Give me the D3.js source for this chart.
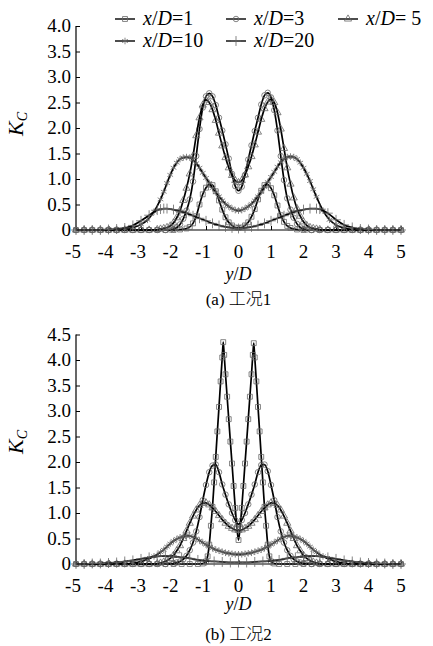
<!DOCTYPE html>
<html>
<head>
<meta charset="utf-8">
<script src="https://cdn.jsdelivr.net/npm/d3@7"></script>
<style>
  body { margin: 0; background: #fff; }
</style>
</head>
<body>
<div class="chart"></div>
<script>
// axis ticks
var xTicks = [-5, -4, -3, -2, -1, 0, 1, 2, 3, 4, 5];
var yTicksA = [0, 0.5, 1.0, 1.5, 2.0, 2.5, 3.0, 3.5, 4.0];
var yTicksB = [0, 0.5, 1.0, 1.5, 2.0, 2.5, 3.0, 3.5, 4.0, 4.5];

// legend
var seriesLabels = ["=1", "=3", "= 5", "=10", "=20"];
var seriesSymbols = ["square", "circle", "triangle", "asterisk", "plus"];

// (a) case 1 : [y/D, Kc]
var a_xd1 = [[-5,0],[-4.75,0],[-4.5,0],[-4.25,0],[-4,0],[-3.75,0],[-3.5,0],[-3.25,0],[-3,0],[-2.75,0],[-2.5,0],[-2.25,0],[-2,0],
  [-1.8,0.01],[-1.6,0.03],[-1.5,0.06],[-1.4,0.13],[-1.3,0.27],[-1.2,0.5],[-1.1,0.7],[-1,0.83],[-0.9,0.89],[-0.8,0.88],[-0.7,0.76],
  [-0.6,0.58],[-0.5,0.4],[-0.4,0.25],[-0.3,0.15],[-0.2,0.09],[-0.1,0.05],[0,0.04],[0.1,0.05],[0.2,0.09],[0.3,0.15],[0.4,0.26],
  [0.5,0.41],[0.6,0.6],[0.7,0.77],[0.8,0.88],[0.9,0.89],[1,0.82],[1.1,0.68],[1.2,0.48],[1.3,0.29],[1.4,0.16],[1.5,0.08],[1.6,0.04],
  [1.8,0.01],[2,0],[2.25,0],[2.5,0],[2.75,0],[3,0],[3.25,0],[3.5,0],[3.75,0],[4,0],[4.25,0],[4.5,0],[4.75,0],[5,0]];
var a_xd3 = [[-5,0],[-4.75,0],[-4.5,0],[-4.25,0],[-4,0],[-3.75,0],[-3.5,0],[-3.25,0],[-3,0],[-2.75,0],[-2.5,0],[-2.25,0],
  [-2.1,0.01],[-2,0.02],[-1.9,0.05],[-1.8,0.11],[-1.7,0.22],[-1.6,0.38],[-1.5,0.6],[-1.4,0.95],[-1.3,1.45],[-1.2,1.98],[-1.1,2.4],
  [-1,2.62],[-0.9,2.68],[-0.8,2.62],[-0.7,2.45],[-0.6,2.2],[-0.5,1.95],[-0.4,1.68],[-0.3,1.4],[-0.2,1.1],[-0.1,0.86],[0,0.77],
  [0.1,0.85],[0.2,1.08],[0.3,1.38],[0.4,1.66],[0.5,1.94],[0.6,2.2],[0.7,2.46],[0.8,2.64],[0.9,2.69],[1,2.6],[1.1,2.35],[1.2,1.95],
  [1.3,1.45],[1.4,0.98],[1.5,0.62],[1.6,0.4],[1.7,0.24],[1.8,0.12],[1.9,0.05],[2,0.02],[2.1,0.01],
  [2.25,0],[2.5,0],[2.75,0],[3,0],[3.25,0],[3.5,0],[3.75,0],[4,0],[4.25,0],[4.5,0],[4.75,0],[5,0]];
var a_xd5 = [[-5,0],[-4.75,0],[-4.5,0],[-4.25,0],[-4,0],[-3.75,0],[-3.5,0],[-3.25,0],[-3,0],[-2.75,0],
  [-2.5,0.01],[-2.4,0.02],[-2.3,0.03],[-2.2,0.05],[-2.1,0.08],[-2,0.14],[-1.9,0.24],[-1.8,0.38],[-1.7,0.58],[-1.6,0.82],[-1.5,1.1],
  [-1.4,1.45],[-1.3,1.85],[-1.2,2.2],[-1.1,2.45],[-1,2.55],[-0.9,2.5],[-0.8,2.36],[-0.7,2.15],[-0.6,1.9],[-0.5,1.65],[-0.4,1.42],
  [-0.3,1.22],[-0.2,1.07],[-0.1,0.97],[0,0.93],[0.1,0.97],[0.2,1.08],[0.3,1.24],[0.4,1.44],[0.5,1.67],[0.6,1.92],[0.7,2.17],
  [0.8,2.38],[0.9,2.51],[1,2.56],[1.1,2.5],[1.2,2.3],[1.3,1.98],[1.4,1.6],[1.5,1.22],[1.6,0.9],[1.7,0.63],[1.8,0.42],[1.9,0.27],
  [2,0.16],[2.1,0.09],[2.2,0.05],[2.3,0.03],[2.4,0.02],[2.5,0.01],[2.75,0],[3,0],[3.25,0],[3.5,0],[3.75,0],[4,0],[4.25,0],[4.5,0],[4.75,0],[5,0]];
var a_xd10 = [[-5,0],[-4.75,0],[-4.5,0],[-4.25,0],[-4,0],[-3.75,0],[-3.5,0.02],[-3.25,0.05],[-3,0.11],[-2.8,0.2],[-2.6,0.36],
  [-2.4,0.6],[-2.3,0.75],[-2.2,0.92],[-2.1,1.08],[-2,1.22],[-1.9,1.32],[-1.8,1.39],[-1.7,1.42],[-1.6,1.43],[-1.5,1.42],[-1.4,1.38],
  [-1.3,1.31],[-1.2,1.22],[-1.1,1.12],[-1,1.02],[-0.9,0.92],[-0.8,0.82],[-0.7,0.74],[-0.6,0.66],[-0.5,0.58],[-0.4,0.51],[-0.3,0.46],
  [-0.2,0.42],[-0.1,0.39],[0,0.38],[0.1,0.39],[0.2,0.42],[0.3,0.46],[0.4,0.51],[0.5,0.58],[0.6,0.66],[0.7,0.75],[0.8,0.84],
  [0.9,0.94],[1,1.04],[1.1,1.14],[1.2,1.24],[1.3,1.33],[1.4,1.39],[1.5,1.43],[1.6,1.44],[1.7,1.43],[1.8,1.39],[1.9,1.32],[2,1.22],
  [2.1,1.1],[2.2,0.96],[2.3,0.8],[2.4,0.65],[2.6,0.38],[2.8,0.2],[3,0.1],[3.25,0.04],[3.5,0.01],[3.75,0],[4,0],[4.25,0],[4.5,0],[4.75,0],[5,0]];
var a_xd20 = [[-5,0],[-4.75,0],[-4.5,0],[-4.25,0],[-4,0.01],[-3.75,0.02],[-3.5,0.04],[-3.25,0.09],[-3,0.18],[-2.75,0.29],
  [-2.5,0.39],[-2.4,0.41],[-2.3,0.42],[-2.2,0.42],[-2,0.4],[-1.8,0.37],[-1.6,0.33],[-1.4,0.28],[-1.2,0.23],[-1,0.18],[-0.8,0.13],
  [-0.6,0.09],[-0.4,0.06],[-0.2,0.04],[0,0.03],[0.2,0.04],[0.4,0.06],[0.6,0.09],[0.8,0.13],[1,0.18],[1.2,0.23],[1.4,0.28],
  [1.6,0.33],[1.8,0.37],[2,0.4],[2.2,0.42],[2.4,0.42],[2.5,0.41],[2.75,0.33],[3,0.2],[3.25,0.1],[3.5,0.05],[3.75,0.02],[4,0.01],
  [4.25,0],[4.5,0],[4.75,0],[5,0]];

// (b) case 2 : [y/D, Kc]
var b_xd1 = [[-5,0],[-4.75,0],[-4.5,0],[-4.25,0],[-4,0],[-3.75,0],[-3.5,0],[-3.25,0],[-3,0],[-2.75,0],[-2.5,0],[-2.25,0],[-2,0],
  [-1.75,0],[-1.5,0],[-1.25,0],[-1.1,0.01],[-1,0.05],[-0.95,0.15],[-0.9,0.38],[-0.85,0.75],[-0.8,1.12],[-0.75,1.6],[-0.7,2.1],
  [-0.65,2.6],[-0.6,3.08],[-0.55,3.58],[-0.5,4.05],[-0.47,4.35],[-0.44,4.1],[-0.4,3.72],[-0.35,3.28],[-0.3,2.84],[-0.25,2.4],
  [-0.2,1.97],[-0.15,1.53],[-0.1,1.1],[-0.05,0.72],[0,0.47],[0.05,0.72],[0.1,1.1],[0.15,1.53],[0.2,1.97],[0.25,2.4],[0.3,2.84],
  [0.35,3.28],[0.4,3.72],[0.44,4.1],[0.47,4.33],[0.5,4.05],[0.55,3.58],[0.6,3.08],[0.65,2.6],[0.7,2.1],[0.75,1.6],[0.8,1.12],
  [0.85,0.75],[0.9,0.38],[0.95,0.15],[1,0.05],[1.1,0.01],[1.25,0],[1.5,0],[1.75,0],[2,0],[2.25,0],[2.5,0],[2.75,0],[3,0],
  [3.25,0],[3.5,0],[3.75,0],[4,0],[4.25,0],[4.5,0],[4.75,0],[5,0]];
var b_xd3 = [[-5,0],[-4.75,0],[-4.5,0],[-4.25,0],[-4,0],[-3.75,0],[-3.5,0],[-3.25,0],[-3,0],[-2.75,0],[-2.5,0],[-2.25,0],
  [-2,0.01],[-1.9,0.03],[-1.8,0.05],[-1.7,0.09],[-1.6,0.16],[-1.5,0.27],[-1.4,0.42],[-1.3,0.64],[-1.2,0.92],[-1.1,1.25],[-1,1.55],
  [-0.9,1.8],[-0.8,1.93],[-0.7,1.95],[-0.6,1.8],[-0.5,1.56],[-0.4,1.36],[-0.3,1.17],[-0.2,1],[-0.1,0.86],[0,0.78],[0.1,0.86],
  [0.2,1],[0.3,1.17],[0.4,1.36],[0.5,1.56],[0.6,1.8],[0.7,1.94],[0.8,1.95],[0.9,1.82],[1,1.55],[1.1,1.25],[1.2,0.92],[1.3,0.64],
  [1.4,0.42],[1.5,0.27],[1.6,0.16],[1.7,0.09],[1.8,0.05],[1.9,0.03],[2,0.01],[2.25,0],[2.5,0],[2.75,0],[3,0],[3.25,0],[3.5,0],
  [3.75,0],[4,0],[4.25,0],[4.5,0],[4.75,0],[5,0]];
var b_xd5 = [[-5,0],[-4.75,0],[-4.5,0],[-4.25,0],[-4,0],[-3.75,0],[-3.5,0],[-3.25,0],[-3,0],[-2.75,0],
  [-2.5,0.01],[-2.4,0.02],[-2.3,0.04],[-2.2,0.07],[-2.1,0.11],[-2,0.17],[-1.9,0.26],[-1.8,0.36],[-1.7,0.5],[-1.6,0.65],[-1.5,0.8],
  [-1.4,0.94],[-1.3,1.06],[-1.2,1.15],[-1.1,1.19],[-1,1.2],[-0.9,1.16],[-0.8,1.1],[-0.7,1.03],[-0.6,0.95],[-0.5,0.87],[-0.4,0.8],
  [-0.3,0.74],[-0.2,0.7],[-0.1,0.67],[0,0.66],[0.1,0.67],[0.2,0.7],[0.3,0.74],[0.4,0.8],[0.5,0.87],[0.6,0.95],[0.7,1.03],
  [0.8,1.1],[0.9,1.16],[1,1.2],[1.1,1.19],[1.2,1.15],[1.3,1.06],[1.4,0.94],[1.5,0.8],[1.6,0.65],[1.7,0.5],[1.8,0.36],[1.9,0.26],
  [2,0.17],[2.1,0.11],[2.2,0.07],[2.3,0.04],[2.4,0.02],[2.5,0.01],[2.75,0],[3,0],[3.25,0],[3.5,0],[3.75,0],[4,0],[4.25,0],[4.5,0],[4.75,0],[5,0]];
var b_xd10 = [[-5,0],[-4.75,0],[-4.5,0],[-4.25,0],[-4,0],[-3.75,0],[-3.5,0],[-3.25,0.02],[-3,0.05],[-2.8,0.09],[-2.6,0.15],
  [-2.4,0.23],[-2.3,0.28],[-2.2,0.34],[-2.1,0.4],[-2,0.45],[-1.9,0.49],[-1.8,0.52],[-1.7,0.54],[-1.6,0.55],[-1.5,0.55],[-1.4,0.53],
  [-1.3,0.5],[-1.2,0.46],[-1.1,0.42],[-1,0.38],[-0.9,0.34],[-0.8,0.31],[-0.7,0.28],[-0.6,0.26],[-0.5,0.24],[-0.4,0.22],[-0.3,0.21],
  [-0.2,0.2],[-0.1,0.19],[0,0.19],[0.1,0.19],[0.2,0.2],[0.3,0.21],[0.4,0.22],[0.5,0.24],[0.6,0.26],[0.7,0.28],[0.8,0.31],
  [0.9,0.34],[1,0.38],[1.1,0.42],[1.2,0.46],[1.3,0.5],[1.4,0.53],[1.5,0.55],[1.6,0.55],[1.7,0.54],[1.8,0.52],[1.9,0.49],[2,0.45],
  [2.1,0.4],[2.2,0.34],[2.3,0.28],[2.4,0.23],[2.6,0.15],[2.8,0.09],[3,0.05],[3.25,0.02],[3.5,0],[3.75,0],[4,0],[4.25,0],[4.5,0],[4.75,0],[5,0]];
var b_xd20 = [[-5,0],[-4.75,0],[-4.5,0.01],[-4.25,0.01],[-4,0.02],[-3.75,0.03],[-3.5,0.05],[-3.25,0.07],[-3,0.1],[-2.75,0.13],
  [-2.5,0.15],[-2.25,0.16],[-2,0.15],[-1.75,0.13],[-1.5,0.11],[-1.25,0.08],[-1,0.06],[-0.75,0.05],[-0.5,0.04],[-0.25,0.03],[0,0.03],
  [0.25,0.03],[0.5,0.04],[0.75,0.05],[1,0.06],[1.25,0.08],[1.5,0.11],[1.75,0.13],[2,0.15],[2.25,0.16],[2.5,0.15],[2.75,0.13],
  [3,0.1],[3.25,0.07],[3.5,0.05],[3.75,0.03],[4,0.02],[4.25,0.01],[4.5,0.01],[4.75,0],[5,0]];

var serif = "'Liberation Serif', 'Times New Roman', serif";

var width = 433, height = 646;
var svg = d3.select(".chart").append("svg")
  .attr("width", width)
  .attr("height", height)
  .attr("font-family", serif);

var symbolTypes = {
  square: d3.symbolSquare,
  circle: d3.symbolCircle,
  triangle: d3.symbolTriangle,
  asterisk: d3.symbolAsterisk,
  plus: d3.symbolPlus
};
var symbolSizes = { square: 24, circle: 24, triangle: 22, asterisk: 30, plus: 34 };

function marker(type) {
  return d3.symbol().type(symbolTypes[type]).size(symbolSizes[type])();
}

var panels = [
  { series: [a_xd1, a_xd3, a_xd5, a_xd10, a_xd20], yTicks: yTicksA, yMax: 4.0,
    bottom: 230, xLabelY: 280, kcY: 124, caption: "(a) ", num: "1", captionY: 305 },
  { series: [b_xd1, b_xd3, b_xd5, b_xd10, b_xd20], yTicks: yTicksB, yMax: 4.5,
    bottom: 564, xLabelY: 610, kcY: 442, caption: "(b) ", num: "2", captionY: 640 }
];

var x = d3.scaleLinear().domain([-5, 5]).range([76, 401]);
var unit = 51; // px per 1.0 Kc

panels.forEach(function (p) {
  var y = d3.scaleLinear().domain([0, p.yMax]).range([p.bottom, p.bottom - p.yMax * unit]);
  var g = svg.append("g");

  // y axis, ticks pointing in
  var yAxis = g.append("g").attr("transform", "translate(" + x(-5) + ",0)")
    .call(d3.axisRight(y).tickValues(p.yTicks).tickSize(4).tickFormat(""));
  yAxis.select(".domain").attr("d", "M0," + y(0) + "V" + y(p.yMax)).attr("stroke", "#000").attr("stroke-width", 1.2);
  yAxis.selectAll(".tick line").attr("stroke", "#000");

  g.selectAll(".ylab")
    .data(p.yTicks)
    .enter()
    .append("text")
    .attr("font-family", serif)
    .attr("x", x(-5) - 5)
    .attr("y", function (d) { return y(d) + 6; })
    .attr("text-anchor", "end")
    .attr("font-size", "19px")
    .text(function (d) { return d === 0 ? "0" : d.toFixed(1); });

  // x axis
  var xAxis = g.append("g").attr("transform", "translate(0," + y(0) + ")")
    .call(d3.axisTop(x).tickValues(xTicks).tickSize(4).tickFormat(""));
  xAxis.select(".domain").attr("d", "M" + x(-5) + ",0H" + x(5)).attr("stroke", "#000").attr("stroke-width", 1.2);
  xAxis.selectAll(".tick line").attr("stroke", "#000");

  g.selectAll(".xlab")
    .data(xTicks)
    .enter()
    .append("text")
    .attr("font-family", serif)
    .attr("x", function (d) { return x(d) - (d < 0 ? 3 : 0); })
    .attr("y", y(0) + 28)
    .attr("text-anchor", "middle")
    .attr("font-size", "19px")
    .text(function (d) { return d; });

  // axis titles
  var xt = g.append("text")
    .attr("font-family", serif)
    .attr("x", x(0))
    .attr("y", p.xLabelY)
    .attr("text-anchor", "middle")
    .attr("font-size", "18px");
  xt.append("tspan").attr("font-style", "italic").text("y");
  xt.append("tspan").text("/");
  xt.append("tspan").attr("font-style", "italic").text("D");

  var kt = g.append("text")
    .attr("font-family", serif)
    .attr("transform", "translate(23," + p.kcY + ") rotate(-90)")
    .attr("text-anchor", "middle")
    .attr("font-size", "22px");
  kt.append("tspan").attr("font-style", "italic").text("K");
  kt.append("tspan").attr("font-style", "italic").attr("font-size", "14px").attr("dy", 4).text("C");

  var cap = g.append("text")
    .attr("font-family", serif)
    .attr("x", x(0))
    .attr("y", p.captionY)
    .attr("text-anchor", "middle")
    .attr("font-size", "17px");
  cap.append("tspan").text(p.caption);
  cap.append("tspan").attr("font-family", "'Noto Sans CJK SC'").attr("font-weight", 300).text("工况");
  cap.append("tspan").text(p.num);

  // curves with markers on every data point
  var line = d3.line()
    .x(function (d) { return x(d[0]); })
    .y(function (d) { return y(d[1]); })
    .curve(d3.curveMonotoneX);

  p.series.forEach(function (s, i) {
    g.append("path")
      .datum(s)
      .attr("d", line)
      .attr("fill", "none")
      .attr("stroke", "#000")
      .attr("stroke-width", 1.7);

    g.selectAll(".m" + i)
      .data(s)
      .enter()
      .append("path")
      .attr("d", marker(seriesSymbols[i]))
      .attr("transform", function (d) { return "translate(" + x(d[0]) + "," + y(d[1]) + ")"; })
      .attr("fill", "none")
      .attr("stroke", "#666")
      .attr("stroke-width", 0.8);
  });
});

// legend
var legendX = [115, 226, 338];
var legendY = [19, 41];
seriesLabels.forEach(function (lab, i) {
  var lx = legendX[i % 3], ly = legendY[Math.floor(i / 3)];
  var lg = svg.append("g").attr("transform", "translate(" + lx + "," + ly + ")");
  lg.append("line").attr("x1", 0).attr("x2", 20).attr("y1", 0).attr("y2", 0)
    .attr("stroke", "#000").attr("stroke-width", 1.4);
  lg.append("path").attr("d", marker(seriesSymbols[i]))
    .attr("transform", "translate(10,0)")
    .attr("fill", "none").attr("stroke", "#666").attr("stroke-width", 0.8);
  var t = lg.append("text").attr("font-family", serif).attr("x", 28).attr("y", 6).attr("font-size", "20px");
  t.append("tspan").attr("font-style", "italic").text("x");
  t.append("tspan").text("/");
  t.append("tspan").attr("font-style", "italic").text("D");
  t.append("tspan").text(lab);
});
</script>
</body>
</html>
